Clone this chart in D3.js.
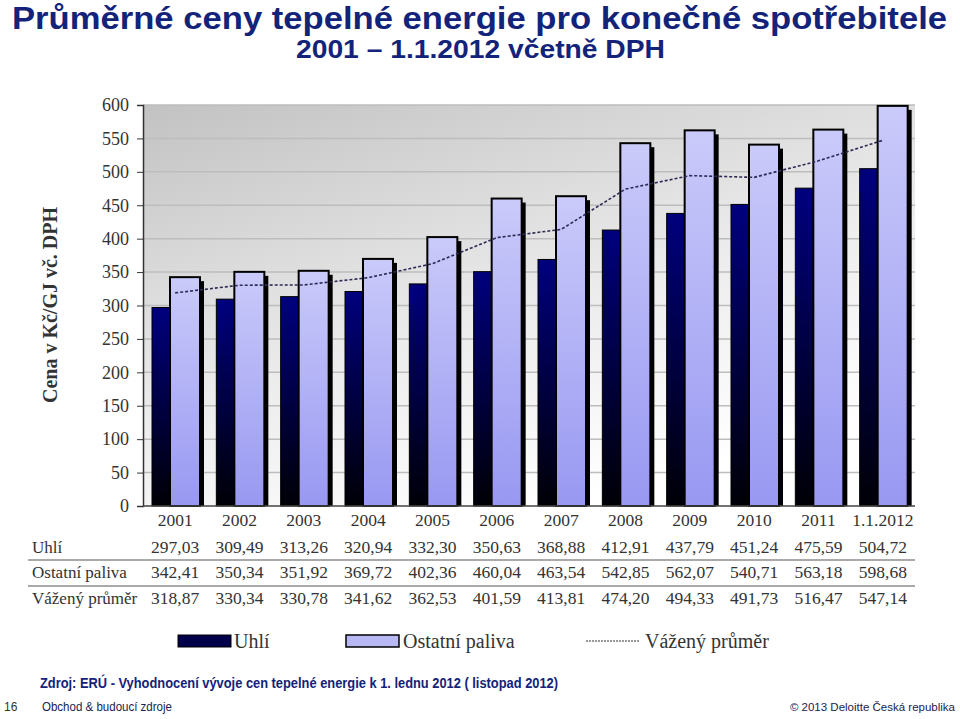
<!DOCTYPE html>
<html><head><meta charset="utf-8">
<script src="https://cdn.jsdelivr.net/npm/d3@7"></script>
<style>body{margin:0;background:#fff}svg{display:block}</style>
</head><body>
<script>
const years = ["2001","2002","2003","2004","2005","2006","2007","2008","2009","2010","2011","1.1.2012"];
const uhli = [297.03,309.49,313.26,320.94,332.30,350.63,368.88,412.91,437.79,451.24,475.59,504.72];
const ostatni = [342.41,350.34,351.92,369.72,402.36,460.04,463.54,542.85,562.07,540.71,563.18,598.68];
const vazeny = [318.87,330.34,330.78,341.62,362.53,401.59,413.81,474.20,494.33,491.73,516.47,547.14];
const yTicks = [0,50,100,150,200,250,300,350,400,450,500,550,600];
const rowNames = ["Uhlí","Ostatní paliva","Vážený průměr"];

const W=960,H=719;
const svg=d3.select("body").append("svg").attr("width",W).attr("height",H);
const defs=svg.append("defs");
const bg=defs.append("linearGradient").attr("id","bg").attr("x1","0").attr("y1","0").attr("x2","0.55").attr("y2","1");
bg.append("stop").attr("offset","0").attr("stop-color","#c2c2c2");
bg.append("stop").attr("offset","0.6").attr("stop-color","#ececec");
bg.append("stop").attr("offset","1").attr("stop-color","#ffffff");
const gU=defs.append("linearGradient").attr("id","gU").attr("x1","0").attr("y1","0").attr("x2","0").attr("y2","1");
gU.append("stop").attr("offset","0").attr("stop-color","#00007e");
gU.append("stop").attr("offset","1").attr("stop-color","#000006");
const gO=defs.append("linearGradient").attr("id","gO").attr("x1","0").attr("y1","0").attr("x2","0").attr("y2","1");
gO.append("stop").attr("offset","0").attr("stop-color","#cacafa");
gO.append("stop").attr("offset","1").attr("stop-color","#9898f2");

const pLeft=143,pRight=915,pTop=105,pBottom=506;
const x=d3.scaleBand().domain(years).range([pLeft,pRight]).padding(0);
const y=d3.scaleLinear().domain([0,600]).range([pBottom,pTop]);
const bw=x.bandwidth();

// Titles
const navy="#13237a";
svg.append("text").attr("x",12).attr("y",29).attr("font-family","Liberation Sans, Arial, sans-serif")
  .attr("font-weight","bold").attr("font-size",32).attr("fill",navy)
  .attr("textLength",935).attr("lengthAdjust","spacingAndGlyphs")
  .text("Průměrné ceny tepelné energie pro konečné spotřebitele");
svg.append("text").attr("x",296).attr("y",58).attr("font-family","Liberation Sans, Arial, sans-serif")
  .attr("font-weight","bold").attr("font-size",26).attr("fill",navy)
  .attr("textLength",369).attr("lengthAdjust","spacingAndGlyphs")
  .text("2001 – 1.1.2012 včetně DPH");

// plot background
svg.append("rect").attr("x",pLeft).attr("y",pTop).attr("width",pRight-pLeft).attr("height",pBottom-pTop).attr("fill","url(#bg)");
// gridlines
svg.append("g").selectAll("line").data(yTicks.filter(d=>d>0)).join("line")
  .attr("x1",pLeft).attr("x2",pRight).attr("y1",d=>y(d)).attr("y2",d=>y(d))
  .attr("stroke","#bdbdbd").attr("stroke-width",1.5);

// bars
const g=svg.append("g");
years.forEach((yr,i)=>{
  const x0=x(yr);
  g.append("rect").attr("x",x0+9).attr("y",y(uhli[i])).attr("width",20).attr("height",pBottom-y(uhli[i]))
    .attr("fill","url(#gU)").attr("stroke","#000").attr("stroke-width",1);
  g.append("rect").attr("x",x0+31).attr("y",y(ostatni[i])+4).attr("width",30).attr("height",pBottom-y(ostatni[i])-4)
    .attr("fill","#000");
  g.append("rect").attr("x",x0+27).attr("y",y(ostatni[i])).attr("width",30).attr("height",pBottom-y(ostatni[i]))
    .attr("fill","url(#gO)").attr("stroke","#000").attr("stroke-width",2);
});

// weighted average line
const line=d3.line().x((d,i)=>x(years[i])+bw/2).y(d=>y(d));
svg.append("path").attr("d",line(vazeny)).attr("fill","none").attr("stroke","#2b2b55")
  .attr("stroke-width",1.6).attr("stroke-dasharray","3,2");

const serif="Liberation Serif, Times New Roman, serif";
// axes
const ax=d3.axisLeft(y).tickValues(yTicks).tickSize(6).tickPadding(8);
const ag=svg.append("g").attr("transform",`translate(${pLeft},0)`).call(ax);
ag.select(".domain").attr("stroke","#333").attr("stroke-width",1.5);
ag.selectAll(".tick line").attr("stroke","#333");
ag.selectAll(".tick text").attr("font-family",serif).attr("font-size",18).attr("fill","#333");
svg.append("line").attr("x1",pLeft).attr("x2",pRight).attr("y1",pBottom).attr("y2",pBottom).attr("stroke","#444").attr("stroke-width",1.5);

// y title
svg.append("text").attr("transform","translate(57,305) rotate(-90)").attr("text-anchor","middle")
  .attr("font-family",serif).attr("font-weight","bold").attr("font-size",20).attr("fill","#333")
  .text("Cena v Kč/GJ vč. DPH");

// category labels
svg.append("g").selectAll("text").data(years).join("text")
  .attr("x",d=>x(d)+bw/2).attr("y",526).attr("text-anchor","middle")
  .attr("font-family",serif).attr("font-size",17.5).attr("fill","#333").text(d=>d);

// table
const fmt=v=>v.toFixed(2).replace(".",",");
const rows=[uhli,ostatni,vazeny];
const rowY=[553,578,604];
rows.forEach((arr,r)=>{
  svg.append("text").attr("x",32).attr("y",rowY[r]).attr("font-family",serif).attr("font-size",17).attr("fill","#333").text(rowNames[r]);
  svg.append("g").selectAll("text").data(arr).join("text")
    .attr("x",(d,i)=>x(years[i])+bw/2).attr("y",rowY[r]).attr("text-anchor","middle")
    .attr("font-family",serif).attr("font-size",17.5).attr("fill","#333").text(d=>fmt(d));
});
[560,586].forEach(yy=>svg.append("line").attr("x1",28).attr("x2",915).attr("y1",yy).attr("y2",yy).attr("stroke","#555").attr("stroke-width",1.2));

// legend
const lg=svg.append("g");
lg.append("rect").attr("x",178).attr("y",635).attr("width",53).attr("height",12).attr("fill","#00004a").attr("stroke","#000");
lg.append("text").attr("x",234).attr("y",648).attr("font-family",serif).attr("font-size",20).attr("fill","#333").text("Uhlí");
lg.append("rect").attr("x",346).attr("y",635).attr("width",53).attr("height",12).attr("fill","#b8b8f4").attr("stroke","#000").attr("stroke-width",1.5);
lg.append("text").attr("x",403).attr("y",648).attr("font-family",serif).attr("font-size",20).attr("fill","#333").text("Ostatní paliva");
lg.append("line").attr("x1",586).attr("x2",640).attr("y1",641).attr("y2",641).attr("stroke","#333").attr("stroke-width",1).attr("stroke-dasharray","2,1");
lg.append("text").attr("x",645).attr("y",648).attr("font-family",serif).attr("font-size",20).attr("fill","#333").text("Vážený průměr");

// footer
const sans="Liberation Sans, Arial, sans-serif";
svg.append("text").attr("x",40).attr("y",688).attr("font-family",sans).attr("font-weight","bold").attr("font-size",14)
  .attr("fill","#13237a").attr("textLength",518).attr("lengthAdjust","spacingAndGlyphs")
  .text("Zdroj: ERÚ - Vyhodnocení vývoje cen tepelné energie k 1. lednu 2012 ( listopad 2012)");
svg.append("text").attr("x",4).attr("y",711).attr("font-family",sans).attr("font-size",12).attr("fill","#333").text("16");
svg.append("text").attr("x",42).attr("y",711).attr("font-family",sans).attr("font-size",12.5).attr("fill","#1a2250")
  .attr("textLength",130).attr("lengthAdjust","spacingAndGlyphs").text("Obchod & budoucí zdroje");
svg.append("text").attr("x",955).attr("y",711).attr("text-anchor","end").attr("font-family",sans).attr("font-size",11.5).attr("fill","#1a2250")
  .text("© 2013 Deloitte Česká republika");
</script>
</body></html>
